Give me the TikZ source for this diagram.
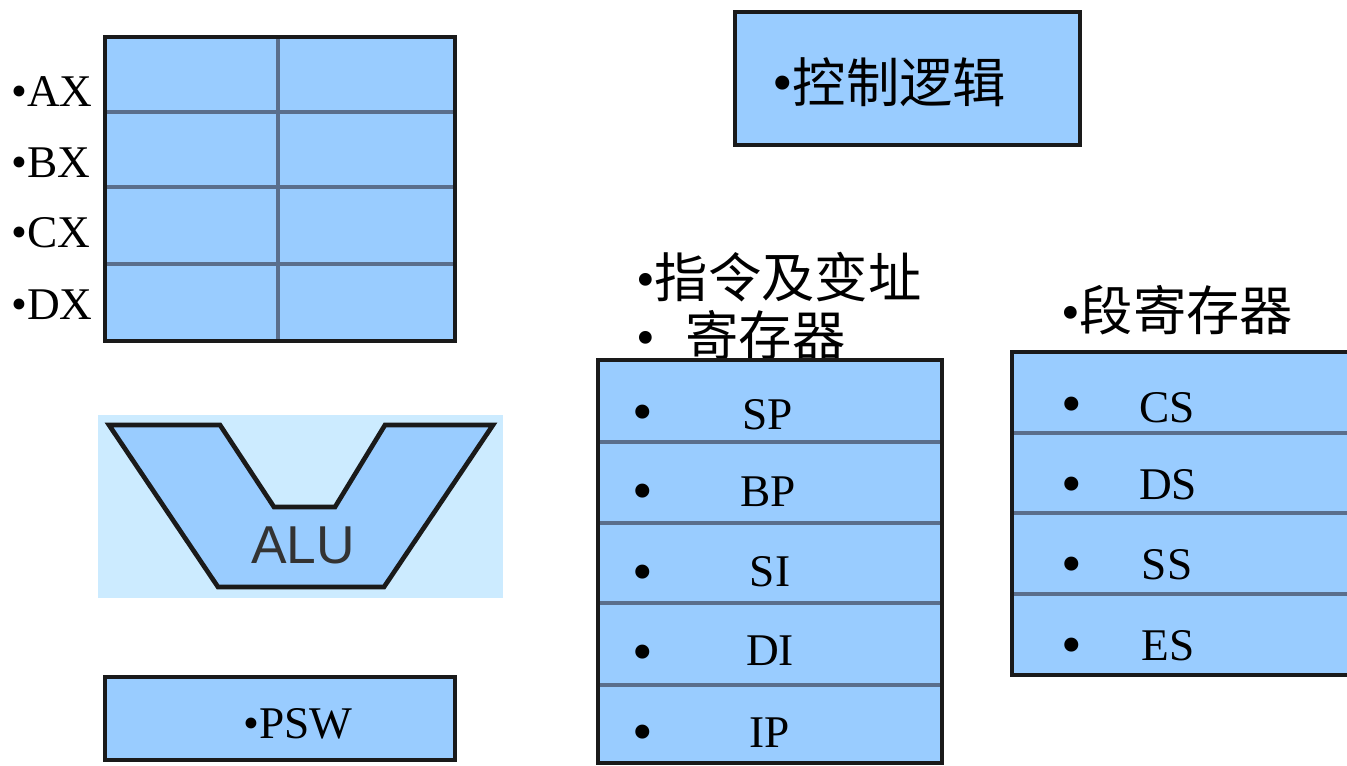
\documentclass[tikz,border=0pt]{standalone}
\usepackage{fontspec}
\setmainfont{Liberation Serif}
\newfontfamily\cjk{Noto Sans CJK SC}
\newfontfamily\alufont{Liberation Sans}
\definecolor{boxfill}{HTML}{99CCFF}
\definecolor{alubg}{HTML}{CCEBFF}
\definecolor{divider}{HTML}{5A6E8C}
\definecolor{edge}{HTML}{1A1A1A}
\begin{document}
\begin{tikzpicture}[x=0.75pt,y=-0.75pt,
  boxarea/.style={fill=boxfill},
  boxedge/.style={draw=edge,line width=3.2pt},
  divline/.style={draw=divider,line width=3pt},
  lat/.style={font=\fontsize{34}{40}\selectfont,inner sep=0pt},
  dot/.style={font=\fontsize{44}{50}\selectfont,inner sep=0pt},
  han/.style={font=\cjk\fontsize{40}{46}\selectfont,inner sep=0pt}]
\useasboundingbox (0,0) rectangle (1347,766);
\fill[white] (0,0) rectangle (1347,766);
\begin{scope}
\clip (0,0) rectangle (1347,766);

% general registers grid
\fill[boxarea] (105,37) rectangle (455,341);
\foreach \yy in {112,187,264} \draw[divline] (105,\yy) -- (455,\yy);
\draw[divline] (278,37) -- (278,341);
\draw[boxedge] (105,37) rectangle (455,341);
\node[lat,anchor=base west] (ax) at (11,107) {•AX};
\node[lat,anchor=base west] (bx) at (11,178) {•BX};
\node[lat,anchor=base west] (cx) at (11,248) {•CX};
\node[lat,anchor=base west] (dx) at (11,320) {•DX};

% ALU
\fill[alubg] (98,415) rectangle (503,598);
\draw[fill=boxfill,draw=edge,line width=3.5pt,line join=miter]
  (109,425) -- (220,425) -- (274,507) -- (335,507) -- (385,425) -- (493,425)
  -- (384,587) -- (218,587) -- cycle;
\node[font=\alufont\fontsize{40}{46}\selectfont,text=black!80,inner sep=0pt] (alu) at (303,545) {ALU};

% PSW
\fill[boxarea] (105,677) rectangle (455,760);
\draw[boxedge] (105,677) rectangle (455,760);
\node[lat,anchor=base] (psw) at (298,738) {•PSW};

% control logic
\fill[boxarea] (735,12) rectangle (1080,145);
\draw[boxedge] (735,12) rectangle (1080,145);
\node[han,anchor=west] (ctrl) at (772,82) {{\rmfamily\fontsize{44}{50}\selectfont •}控制逻辑};

% pointer / index registers
\node[han,anchor=west] (ptrlbl1) at (636,277) {{\rmfamily •}指令及变址};
\node[han,anchor=west] (ptrlbl2) at (636,335) {{\rmfamily •}\hspace{23pt}寄存器};
\fill[boxarea] (598,360) rectangle (942,763);
\foreach \yy in {442,523,603,685} \draw[divline] (598,\yy) -- (942,\yy);
\draw[boxedge] (598,360) rectangle (942,763);
\node[dot,anchor=base] (bsp) at (643,432) {•};
\node[lat,anchor=base] (sp) at (768,430) {SP};
\node[dot,anchor=base] (bbp) at (643,511) {•};
\node[lat,anchor=base] (bp) at (768,507) {BP};
\node[dot,anchor=base] (bsi) at (643,591) {•};
\node[lat,anchor=base] (si) at (770,587) {SI};
\node[dot,anchor=base] (bdi) at (643,671) {•};
\node[lat,anchor=base] (di) at (770,665) {DI};
\node[dot,anchor=base] (bip) at (643,751) {•};
\node[lat,anchor=base] (ip) at (770,747) {IP};

% segment registers
\node[han,anchor=west] (seglbl) at (1061,310) {{\rmfamily •}段寄存器};
\fill[boxarea] (1012,352) rectangle (1360,675);
\foreach \yy in {433,513,594} \draw[divline] (1012,\yy) -- (1360,\yy);
\draw[boxedge] (1360,352) -- (1012,352) -- (1012,675) -- (1360,675);
\node[dot,anchor=base] (bcs) at (1072,424) {•};
\node[lat,anchor=base] (cs) at (1167,423) {CS};
\node[dot,anchor=base] (bds) at (1072,504) {•};
\node[lat,anchor=base] (ds) at (1168,500) {DS};
\node[dot,anchor=base] (bss) at (1072,584) {•};
\node[lat,anchor=base] (ss) at (1167,580) {SS};
\node[dot,anchor=base] (bes) at (1072,664) {•};
\node[lat,anchor=base] (es) at (1168,660) {ES};
\end{scope}
\end{tikzpicture}
\end{document}
